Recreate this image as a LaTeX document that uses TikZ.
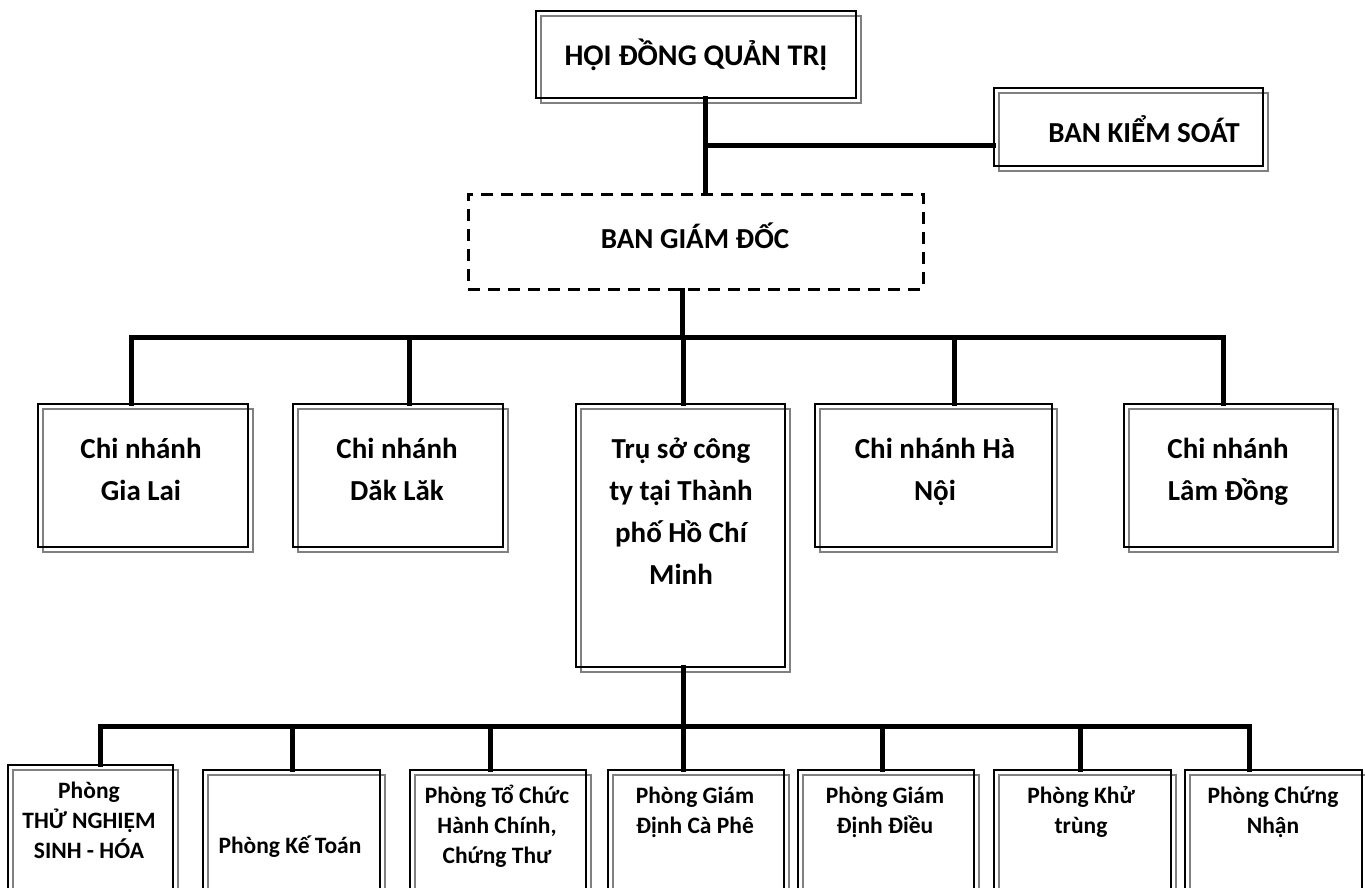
\documentclass[tikz,border=0pt]{standalone}
\usepackage{fontspec}
\setmainfont{Carlito}
\usetikzlibrary{positioning}
\definecolor{framegray}{RGB}{128,128,128}

\begin{document}
\begin{tikzpicture}[x=1pt, y=-1pt,
  every node/.style={font=\bfseries, inner sep=0pt},
  unit/.style={draw=black, line width=1.5pt, anchor=north west,
    preaction={draw=framegray, line width=1.5pt, transform canvas={shift={(5pt,-5pt)}}}},
  link/.style={line width=5pt, line cap=rect},
  head/.style={font=\fontsize{29}{34}\selectfont\bfseries, anchor=base},
  branch/.style={font=\fontsize{29}{42}\selectfont\bfseries, anchor=base, align=center},
  dept/.style={font=\fontsize{23.5}{30}\selectfont\bfseries, anchor=base, align=center}]

\useasboundingbox (0,0) rectangle (1365,887);
\clip (0,0) rectangle (1365,887);

% Top level
\node[unit, minimum width=320pt, minimum height=87pt] (hdqt) at (535,10) {};
\node[head, font=\fontsize{30}{36}\selectfont\bfseries] (hdqt-txt) at (696,65) {HỘI ĐỒNG QUẢN TRỊ};

\node[unit, minimum width=269pt, minimum height=78pt] (bks) at (993,87) {};
\node[head] (bks-txt) at (1144,142) {BAN KIỂM SOÁT};

\node[draw, line width=2.5pt, dash pattern=on 12pt off 8pt, anchor=north west,
  minimum width=455pt, minimum height=95pt] (bgd) at (467,193) {};
\node[head] (bgd-txt) at (695,248) {BAN GIÁM ĐỐC};

% Board links
\coordinate (j0) at (705,145);
\draw[link] (hdqt.south -| j0) -- (j0 |- bgd.north);
\draw[link] (j0) -- (j0 -| bks.west);

% Branches (base = last line)
\node[unit, minimum width=210pt, minimum height=143pt] (cngl) at (37,403) {};
\node[branch] (cngl-txt) at (141,500) {Chi nhánh\\Gia Lai};

\node[unit, minimum width=210pt, minimum height=143pt] (cndl) at (292,403) {};
\node[branch] (cndl-txt) at (397,500) {Chi nhánh\\Dăk Lăk};

\node[unit, minimum width=209pt, minimum height=263pt] (hcm) at (575,403) {};
\node[branch] (hcm-txt) at (681,584) {Trụ sở công\\ty tại Thành\\phố Hồ Chí\\Minh};

\node[unit, minimum width=237pt, minimum height=143pt] (cnhn) at (814,403) {};
\node[branch] (cnhn-txt) at (935,500) {Chi nhánh Hà\\Nội};

\node[unit, minimum width=209pt, minimum height=143pt] (cnld) at (1123,403) {};
\node[branch] (cnld-txt) at (1228,500) {Chi nhánh\\Lâm Đồng};

% Directors to branches
\coordinate (bus1-l) at (131,337);
\coordinate (bus1-r) at (1223,337);
\draw[link] (bgd.south -| 682,0) -- (682,337);
\draw[link] (bus1-l) -- (bus1-r);
\foreach \x/\n in {131/cngl, 409/cndl, 683/hcm, 954/cnhn, 1223/cnld} {
  \coordinate (drop) at (\x,337);
  \draw[link] (drop) -- (drop |- \n.north);
}

% Departments (base = last line)
\node[unit, minimum width=165pt, minimum height=140pt] (p1) at (7,764) {};
\node[dept] (p1-txt) at (89,858) {Phòng\\THỬ NGHIỆM\\SINH - HÓA};

\node[unit, minimum width=177pt, minimum height=140pt] (p2) at (202,769) {};
\node[dept] (p2-txt) at (290,853) {Phòng Kế Toán};

\node[unit, minimum width=176pt, minimum height=140pt] (p3) at (409,769) {};
\node[dept] (p3-txt) at (497,863) {Phòng Tổ Chức\\Hành Chính,\\Chứng Thư};

\node[unit, minimum width=176pt, minimum height=140pt] (p4) at (607,769) {};
\node[dept] (p4-txt) at (695,833) {Phòng Giám\\Định Cà Phê};

\node[unit, minimum width=176pt, minimum height=140pt] (p5) at (797,769) {};
\node[dept] (p5-txt) at (885,833) {Phòng Giám\\Định Điều};

\node[unit, minimum width=177pt, minimum height=140pt] (p6) at (993,769) {};
\node[dept] (p6-txt) at (1081,833) {Phòng Khử\\trùng};

\node[unit, minimum width=177pt, minimum height=140pt] (p7) at (1184,769) {};
\node[dept] (p7-txt) at (1273,833) {Phòng Chứng\\Nhận};

% Head office to departments
\coordinate (bus2-l) at (100,726);
\coordinate (bus2-r) at (1249,726);
\draw[link] (hcm.south -| 683,0) -- (683,726);
\draw[link] (bus2-l) -- (bus2-r);
\foreach \x/\n in {100/p1, 292/p2, 490/p3, 683/p4, 882/p5, 1080/p6, 1249/p7} {
  \coordinate (drop) at (\x,726);
  \draw[link] (drop) -- (drop |- \n.north);
}

\end{tikzpicture}
\end{document}
